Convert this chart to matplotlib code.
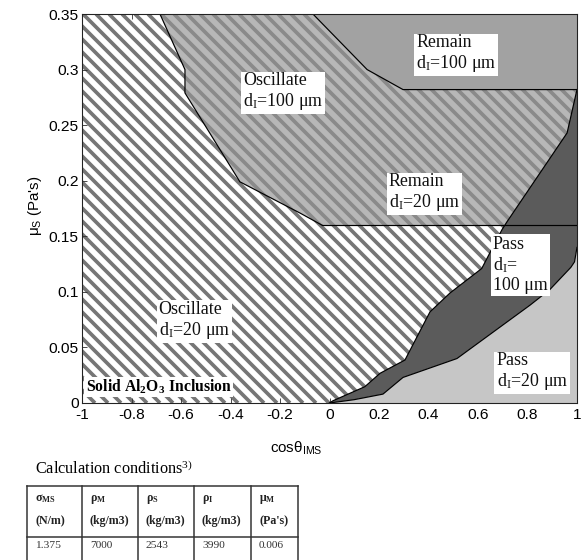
import matplotlib
matplotlib.use("Agg")
import numpy as np
import matplotlib.pyplot as plt
from matplotlib.patches import Polygon, Rectangle
from matplotlib.lines import Line2D
from matplotlib.collections import LineCollection

DPI = 78
W, H = 585, 560

plt.rcParams["mathtext.fontset"] = "custom"
plt.rcParams["mathtext.rm"] = "Liberation Serif"
plt.rcParams["mathtext.it"] = "Liberation Serif:italic"
plt.rcParams["mathtext.bf"] = "Liberation Serif:bold"
plt.rcParams["mathtext.sf"] = "Liberation Sans"

SERIF = "Liberation Serif"
SANS = "Liberation Sans"

# ---- regime boundaries (cos(theta_IMS), mu_S [Pa s]) ----
osc100_cos = [-0.685, -0.584, -0.584, -0.362, -0.12, -0.03]
osc100_mu = [0.35, 0.30, 0.279, 0.199, 0.171, 0.16]

remain20_mu = 0.16

remain100_cos = [-0.067, 0.152, 0.297, 1.0]
remain100_mu = [0.35, 0.30, 0.282, 0.282]

pass100_cos = [0.0, 0.014, 0.143, 0.204, 0.305, 0.406, 0.487, 0.615, 0.697, 0.717, 0.96, 1.0]
pass100_mu = [0.0, 0.002, 0.0147, 0.0267, 0.0387, 0.082, 0.099, 0.121, 0.156, 0.163, 0.243, 0.282]

pass20_cos = [0.0, 0.10, 0.216, 0.297, 0.515, 0.81, 0.89, 0.975, 0.99, 1.0]
pass20_mu = [0.0, 0.003, 0.008, 0.023, 0.040, 0.088, 0.102, 0.122, 0.127, 0.14]

x_ticks = [-1, -0.8, -0.6, -0.4, -0.2, 0, 0.2, 0.4, 0.6, 0.8, 1]
x_ticklabels = ["-1", "-0.8", "-0.6", "-0.4", "-0.2", "0", "0.2", "0.4", "0.6", "0.8", "1"]
y_ticks = [0, 0.05, 0.1, 0.15, 0.2, 0.25, 0.3, 0.35]
y_ticklabels = ["0", "0.05", "0.1", "0.15", "0.2", "0.25", "0.3", "0.35"]

# ---- calculation conditions table ----
table_symbols = [r"$\mathbf{\sigma}_{\mathbf{MS}}$", r"$\mathbf{\rho}_{\mathbf{M}}$",
                 r"$\mathbf{\rho}_{\mathbf{S}}$", r"$\mathbf{\rho}_{\mathbf{I}}$",
                 r"$\mathbf{\mu}_{\mathbf{M}}$"]
table_units = ["(N/m)", "(kg/m3)", "(kg/m3)", "(kg/m3)", "(Pa's)"]
table_values = ["1.375", "7000", "2543", "3990", "0.006"]

fig = plt.figure(figsize=(W / DPI, H / DPI), dpi=DPI)


def fx(px):
    return px / W


def fy(py):
    return 1 - py / H


AX_L, AX_R, AX_T, AX_B = 82, 577, 14, 403
ax = fig.add_axes([fx(AX_L), fy(AX_B), fx(AX_R) - fx(AX_L), fy(AX_T) - fy(AX_B)])
ax.set_xlim(-1, 1)
ax.set_ylim(0, 0.35)

STRIPE_LIGHT = "#767676"
GRAY_BG = "#b7b7b7"
STRIPE_GRAY = "#8a8a8a"
REMAIN_GRAY = "#a2a2a2"
DARK = "#5b5b5b"
LIGHT = "#c6c6c6"

# diagonal stripe set (45 deg on screen), in axes-fraction coordinates
ax_w = AX_R - AX_L
ax_h = AX_B - AX_T
period = 13.0
offsets = np.arange(-ax_h - period, ax_w + period, period)
stripe_segs = [[(c / ax_w, 1.0), ((c + ax_h) / ax_w, 0.0)] for c in offsets]


def add_stripes(clip_patch, color, z):
    lc = LineCollection(stripe_segs, colors=color, linewidths=3.4,
                        transform=ax.transAxes, zorder=z, capstyle="butt")
    ax.add_collection(lc)
    lc.set_clip_path(clip_patch)


# Oscillate, d_I = 20 um (background of the whole map)
bg = Rectangle((-1, 0), 2, 0.35, facecolor="white", edgecolor="none", linewidth=0, zorder=1)
ax.add_patch(bg)
add_stripes(bg, STRIPE_LIGHT, 1.1)

# Oscillate d_I = 100 um  +  Remain d_I = 20 um
gray_pts = list(zip(osc100_cos, osc100_mu)) + [(1.0, remain20_mu), (1.0, 0.35)]
gray = Polygon(gray_pts, closed=True, facecolor=GRAY_BG, edgecolor="none", linewidth=0, zorder=2)
ax.add_patch(gray)
add_stripes(gray, STRIPE_GRAY, 2.1)

# Remain d_I = 100 um
rem_pts = list(zip(remain100_cos, remain100_mu)) + [(1.0, 0.35)]
ax.add_patch(Polygon(rem_pts, closed=True, facecolor=REMAIN_GRAY, edgecolor="none",
                     linewidth=0, zorder=3))

# Pass d_I = 100 um
dark_pts = list(zip(pass100_cos, pass100_mu)) + list(zip(pass20_cos, pass20_mu))[::-1]
ax.add_patch(Polygon(dark_pts, closed=True, facecolor=DARK, edgecolor="none",
                     linewidth=0, zorder=4))

# Pass d_I = 20 um
light_pts = list(zip(pass20_cos, pass20_mu)) + [(1.0, 0.0)]
ax.add_patch(Polygon(light_pts, closed=True, facecolor=LIGHT, edgecolor="none",
                     linewidth=0, zorder=4))

# Boundary lines
lk = dict(color="black", linewidth=1.1, zorder=6, solid_joinstyle="miter")
ax.plot(osc100_cos, osc100_mu, **lk)
ax.plot([osc100_cos[-1], 1.0], [remain20_mu, remain20_mu], **lk)
ax.plot(remain100_cos, remain100_mu, **lk)
ax.plot(pass100_cos, pass100_mu, **lk)
ax.plot(pass20_cos, pass20_mu, **lk)

# Region labels
lab_fs = 16.5
box = dict(boxstyle="square,pad=0.12", facecolor="white", edgecolor="none")
lab = dict(family=SERIF, fontsize=lab_fs, ha="left", va="center", bbox=box, zorder=8,
           linespacing=1.15, color="#111111")
ax.text(0.35, 0.314, "Remain\nd$_{\\mathrm{I}}$=100 μm", **lab)
ax.text(-0.35, 0.28, "Oscillate\nd$_{\\mathrm{I}}$=100 μm", **lab)
ax.text(0.24, 0.189, "Remain\nd$_{\\mathrm{I}}$=20 μm", **lab)
ax.text(0.66, 0.124, "Pass\nd$_{\\mathrm{I}}$=\n100 μm", **lab)
ax.text(0.675, 0.028, "Pass\nd$_{\\mathrm{I}}$=20 μm", **lab)
ax.text(-0.69, 0.074, "Oscillate\nd$_{\\mathrm{I}}$=20 μm", **lab)
ax.text(-0.985, 0.0144, "Solid Al$_{\\mathbf{2}}$O$_{\\mathbf{3}}$ Inclusion", family=SERIF,
        fontsize=14.5, fontweight="bold", ha="left", va="center", zorder=8,
        bbox=dict(boxstyle="square,pad=0.08", facecolor="white", edgecolor="none"))

# Axes styling
ax.set_xticks(x_ticks)
ax.set_xticklabels(x_ticklabels)
ax.set_yticks(y_ticks)
ax.set_yticklabels(y_ticklabels)
ax.tick_params(direction="in", top=True, right=True, length=5, width=0.8,
               labelsize=14.3, color="#333333")
ax.tick_params(axis="x", pad=5)
ax.tick_params(axis="y", pad=3)
for t in ax.get_xticklabels() + ax.get_yticklabels():
    t.set_family(SANS)
for s in ax.spines.values():
    s.set_linewidth(1.0)
    s.set_color("#222222")
    s.set_zorder(9)

fig.text(fx(296), fy(448), "cosθ$_{\\mathsf{IMS}}$", family=SANS, fontsize=14,
         ha="center", va="center")
fig.text(fx(35), fy(206), "μ$_{\\mathsf{S}}$ (Pa's)", family=SANS, fontsize=14,
         rotation=90, ha="center", va="center")

# Calculation conditions
fig.text(fx(35), fy(469), "Calculation conditions$^{3)}$", family=SERIF, fontsize=15,
         ha="left", va="center")

col_x = [27, 82, 138, 194, 251, 298]
row_y = [486, 537, 562]
tl = dict(color="#333333", linewidth=1.4)
for y in row_y[:2]:
    fig.add_artist(Line2D([fx(col_x[0]), fx(col_x[-1])], [fy(y), fy(y)], **tl))
for x in col_x:
    fig.add_artist(Line2D([fx(x), fx(x)], [fy(row_y[0]), fy(row_y[2])], **tl))
for i in range(5):
    x0 = fx(col_x[i] + 8)
    fig.text(x0, fy(499), table_symbols[i], family=SERIF, fontsize=11, fontweight="bold",
             ha="left", va="center", color="#222222")
    fig.text(x0, fy(521), table_units[i], family=SERIF, fontsize=11, fontweight="bold",
             ha="left", va="center", color="#222222")
    fig.text(x0, fy(545), table_values[i], family=SERIF, fontsize=10.5,
             ha="left", va="center", color="#333333")

fig.savefig("out.png", dpi=DPI)
